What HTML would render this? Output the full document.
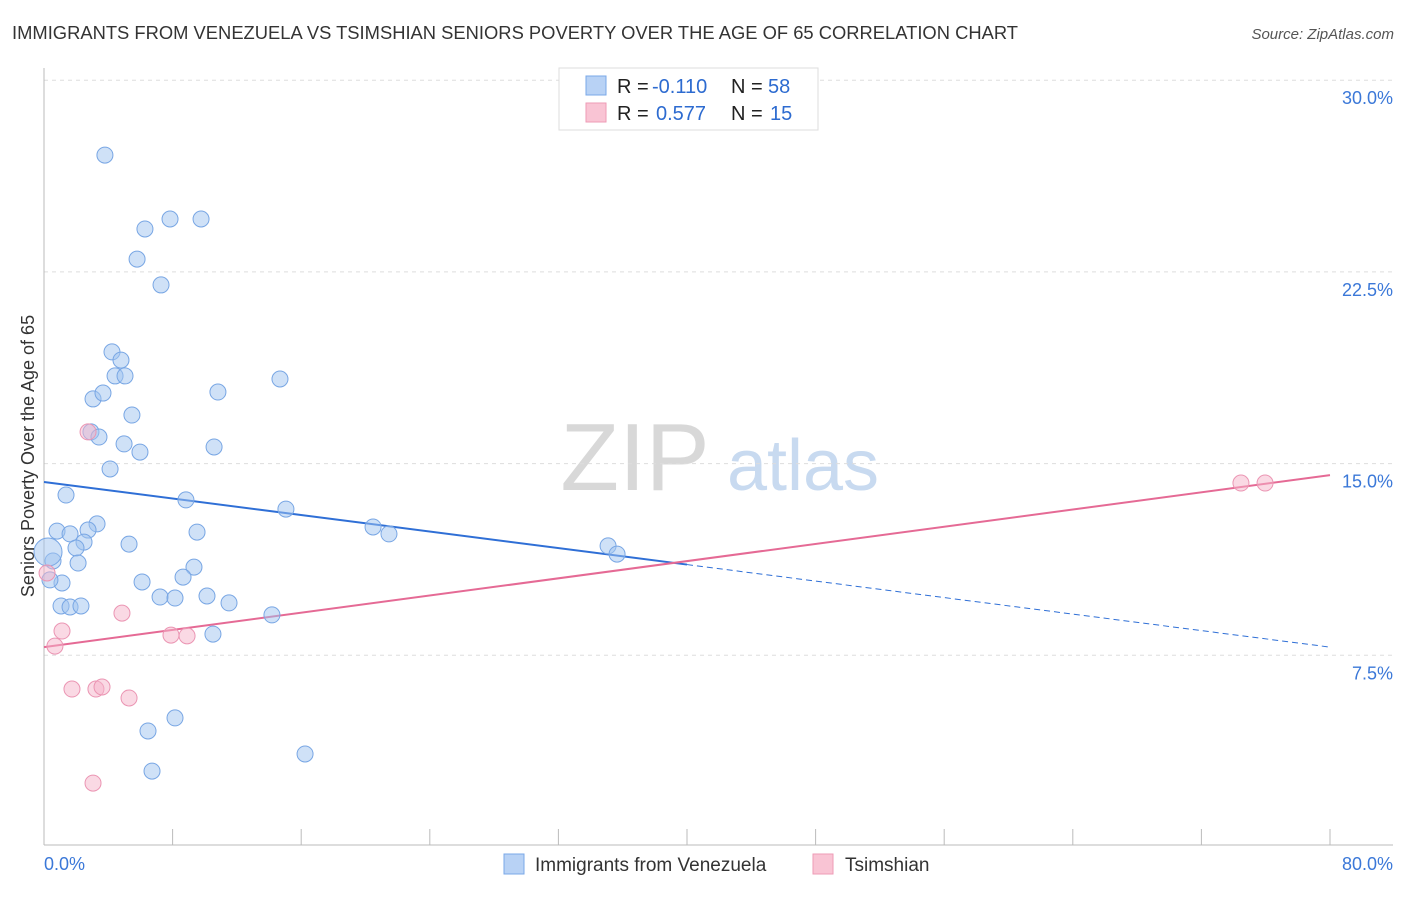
<!DOCTYPE html>
<html><head><meta charset="utf-8"><style>
body{margin:0;background:#fff;font-family:"Liberation Sans",sans-serif;}
svg text{font-family:"Liberation Sans",sans-serif;}
</style></head><body>
<svg id="chart" width="1406" height="892">
<text x="12" y="39" font-size="18" fill="#333" textLength="1006" lengthAdjust="spacingAndGlyphs">IMMIGRANTS FROM VENEZUELA VS TSIMSHIAN SENIORS POVERTY OVER THE AGE OF 65 CORRELATION CHART</text>
<text x="1394" y="39" font-size="15" fill="#555" font-style="italic" text-anchor="end">Source: ZipAtlas.com</text>
<g>
<text x="635" y="490" font-size="96" font-family="Liberation Serif,serif" fill="#d8d8d8" text-anchor="middle">ZIP</text>
<text x="803" y="490" font-size="72" fill="#c8daf0" text-anchor="middle">atlas</text>
</g>
<g id="grid"></g>
<g id="axes"></g>
<g id="lines"></g>
<g id="points"></g>
<text transform="translate(34,456) rotate(-90)" font-size="18" fill="#333" text-anchor="middle">Seniors Poverty Over the Age of 65</text>
<g>
<rect x="559" y="68" width="259" height="62" fill="#fff" stroke="#ddd"/>
<rect x="586" y="76" width="20" height="19" fill="#b8d2f5" stroke="#7aa8e8"/>
<rect x="586" y="103" width="20" height="19" fill="#f9c4d4" stroke="#ee9bb6"/>
<text x="617" y="93" font-size="20" fill="#222">R = </text><text x="652" y="93" font-size="20" fill="#2d6bd0">-0.110</text>
<text x="731" y="93" font-size="20" fill="#222">N = </text><text x="768" y="93" font-size="20" fill="#2d6bd0">58</text>
<text x="617" y="120" font-size="20" fill="#222">R = </text><text x="656" y="120" font-size="20" fill="#2d6bd0">0.577</text>
<text x="731" y="120" font-size="20" fill="#222">N = </text><text x="770" y="120" font-size="20" fill="#2d6bd0">15</text>
</g>
<g>
<rect x="504" y="854" width="20" height="20" fill="#b8d2f5" stroke="#7aa8e8"/>
<text x="535" y="871" font-size="19" fill="#333">Immigrants from Venezuela</text>
<rect x="813" y="854" width="20" height="20" fill="#f9c4d4" stroke="#ee9bb6"/>
<text x="845" y="871" font-size="19" fill="#333">Tsimshian</text>
</g>
</svg>
<script>
const blueX=[3.79,6.28,7.84,9.77,5.79,7.28,4.23,4.79,4.42,5.04,3.05,3.67,5.47,10.82,14.68,2.92,3.42,4.98,5.97,10.58,4.11,1.37,8.83,15.05,3.30,0.81,1.62,2.74,9.52,2.49,5.29,1.99,20.47,21.46,35.09,35.65,0.56,2.12,9.33,8.65,6.10,1.12,0.37,7.22,8.15,10.14,11.51,1.06,1.62,2.30,14.18,10.51,8.15,6.47,16.24,6.72,0.25];
const blueY=[27.07,24.18,24.57,24.57,23.00,21.99,19.37,19.05,18.43,18.43,17.53,17.76,16.90,17.80,18.31,16.24,16.04,15.77,15.45,15.65,14.79,13.77,13.58,13.22,12.64,12.36,12.25,12.40,12.32,11.93,11.85,11.70,12.52,12.25,11.78,11.46,11.19,11.11,10.95,10.56,10.37,10.33,10.45,9.78,9.74,9.82,9.55,9.43,9.39,9.43,9.08,8.33,5.05,4.54,3.64,2.97,11.54];
const pinkX=[2.74,0.68,1.12,4.85,7.90,8.90,1.74,3.23,3.61,5.29,3.05,74.46,75.96,0.19];
const pinkY=[16.24,7.86,8.45,9.15,8.29,8.26,6.18,6.18,6.26,5.83,2.50,14.24,14.24,10.72];
const yTicks=[7.5,15,22.5,30];
const yTickLabels=["7.5%","15.0%","22.5%","30.0%"];
const blueTrend=[14.28,7.82];
const pinkTrend=[7.82,14.55];
const NS="http://www.w3.org/2000/svg";
const xs=v=>44+v*16.075;
const ys=v=>847-v*25.56;
function mk(tag,attrs,parent){const e=document.createElementNS(NS,tag);for(const k in attrs)e.setAttribute(k,attrs[k]);document.getElementById(parent).appendChild(e);return e;}
yTicks.forEach((t,i)=>{
 const g=mk('line',{x1:44,x2:1393,y1:ys(t),y2:ys(t),stroke:'#ddd','stroke-dasharray':'4,4'},'grid');
 
 
 const l=mk('text',{x:1393,y:ys(t)+24,'font-size':18,fill:'#3b78d8','text-anchor':'end'},'grid');
 l.textContent=yTickLabels[i];
 
 
});
mk('line',{x1:44,x2:44,y1:68,y2:845,stroke:'#bbb'},'axes');
mk('line',{x1:44,x2:1393,y1:845,y2:845,stroke:'#bbb'},'axes');
for(let i=0;i<=10;i++){const t=mk('line',{x1:xs(i*8),x2:xs(i*8),y1:829,y2:845,stroke:'#bbb'},'axes');
 
 }
const x0=mk('text',{x:44,y:870,'font-size':18,fill:'#3b78d8'},'axes');x0.textContent='0.0%';


const x1=mk('text',{x:1393,y:870,'font-size':18,fill:'#3b78d8','text-anchor':'end'},'axes');x1.textContent='80.0%';


const bMid=blueTrend[0]+(blueTrend[1]-blueTrend[0])*0.5;
const bl=mk('line',{x1:xs(0),y1:ys(blueTrend[0]),x2:xs(40),y2:ys(bMid),stroke:'#2f6fd6','stroke-width':2},'lines');


const bd=mk('line',{x1:xs(40),y1:ys(bMid),x2:xs(80),y2:ys(blueTrend[1]),stroke:'#2f6fd6','stroke-width':1,'stroke-dasharray':'6,4'},'lines');


const pl=mk('line',{x1:xs(0),y1:ys(pinkTrend[0]),x2:xs(80),y2:ys(pinkTrend[1]),stroke:'#e56a95','stroke-width':2},'lines');


blueX.forEach((x,i)=>{const c=mk('circle',{cx:xs(x),cy:ys(blueY[i]),r:i==blueX.length-1?14:8,fill:'rgba(160,196,240,0.5)',stroke:'#78a6e4','stroke-width':1},'points');
 
 });
pinkX.forEach((x,i)=>{const c=mk('circle',{cx:xs(x),cy:ys(pinkY[i]),r:8,fill:'rgba(246,180,202,0.5)',stroke:'#eb95b3','stroke-width':1},'points');
 
 });
</script>
</body></html>
